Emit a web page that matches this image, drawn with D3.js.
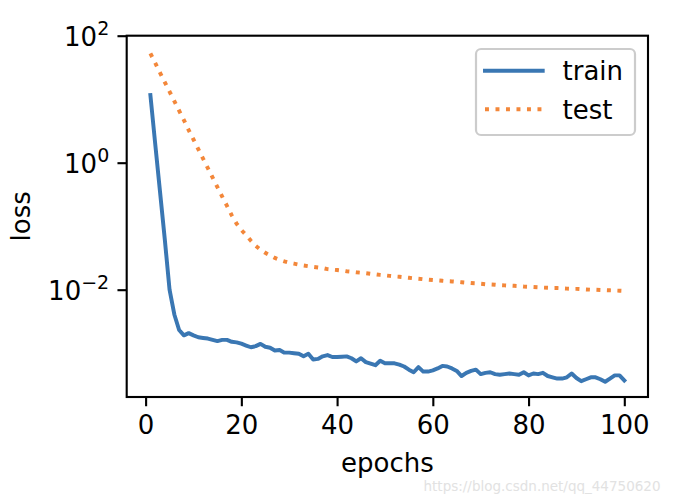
<!DOCTYPE html>
<html>
<head>
<meta charset="utf-8">
<script src="https://cdn.jsdelivr.net/npm/d3@7"></script>
<style>
  html, body { margin: 0; padding: 0; background: #ffffff; }
  svg { display: block; }
  text { font-family: "DejaVu Sans", sans-serif; fill: #000; }
</style>
</head>
<body>
<svg id="chart" width="676" height="504"></svg>
<script>
// ---- data ----
const epochs = d3.range(1, 101);
const trainLoss = [
  11.6, 2.0, 0.355, 0.063, 0.0100, 0.00407, 0.00232, 0.00191, 0.00207, 0.00191,
  0.00178, 0.00174, 0.00170, 0.00162, 0.00155, 0.00162, 0.00162, 0.00151, 0.00148, 0.00141,
  0.00132, 0.00124, 0.00129, 0.00140, 0.00126, 0.00122, 0.00110, 0.00112, 0.00102, 0.00102,
  0.00100, 0.000977, 0.000891, 0.000977, 0.000794, 0.000813, 0.000891, 0.000933, 0.000871, 0.000871,
  0.000881, 0.000891, 0.000832, 0.000741, 0.000832, 0.000724, 0.000684, 0.000646, 0.000759, 0.000692,
  0.000692, 0.000692, 0.000661, 0.000617, 0.000550, 0.000501, 0.000603, 0.000513, 0.000513, 0.000537,
  0.000575, 0.000631, 0.000617, 0.000575, 0.000525, 0.000437, 0.000490, 0.000525, 0.000550, 0.000468,
  0.000490, 0.000501, 0.000468, 0.000457, 0.000468, 0.000479, 0.000468, 0.000457, 0.000501, 0.000447,
  0.000479, 0.000468, 0.000490, 0.000437, 0.000417, 0.000398, 0.000398, 0.000417, 0.000479, 0.000407,
  0.000363, 0.000389, 0.000417, 0.000417, 0.000389, 0.000355, 0.000398, 0.000447, 0.000447, 0.000372
];
const testLoss = [
  52.5, 37.2, 26.3, 18.6, 13.2, 9.33, 6.61, 4.68, 3.27, 2.32,
  1.64, 1.16, 0.822, 0.582, 0.412, 0.292, 0.209, 0.148, 0.110, 0.0871,
  0.0724, 0.0589, 0.0490, 0.0427, 0.0380, 0.0347, 0.0316, 0.0295, 0.0279, 0.0266,
  0.0257, 0.0248, 0.0240, 0.0234, 0.0229, 0.0224, 0.0219, 0.0211, 0.0207, 0.0204,
  0.0200, 0.0195, 0.0192, 0.0188, 0.0185, 0.0182, 0.0178, 0.0175, 0.0171, 0.0168,
  0.0165, 0.0162, 0.0160, 0.0157, 0.0154, 0.0151, 0.0149, 0.0146, 0.0144, 0.0142,
  0.0140, 0.0138, 0.0136, 0.0135, 0.0133, 0.0131, 0.0129, 0.0127, 0.0126, 0.0124,
  0.0122, 0.0121, 0.0120, 0.0118, 0.0117, 0.0116, 0.0115, 0.0114, 0.0112, 0.0111,
  0.0110, 0.0109, 0.0108, 0.0107, 0.0106, 0.0106, 0.0105, 0.0104, 0.0103, 0.0103,
  0.0102, 0.0101, 0.0100, 0.00998, 0.00991, 0.00984, 0.00977, 0.00971, 0.00964, 0.00955
];
const seriesNames = ["train", "test"];
const xTicks = [0, 20, 40, 60, 80, 100];
const yTickExponents = [2, 0, -2];
const xLabel = "epochs";
const yLabel = "loss";
const watermark = "https://blog.csdn.net/qq_44750620";

// ---- layout ----
const svg = d3.select("#chart");
const axL = 126.7, axR = 648, axT = 35.7, axB = 397;
const pt = 2.64; // px per point

const x = d3.scaleLinear().domain([-3.95, 104.95]).range([axL, axR]);
const y = d3.scaleLog().domain([Math.pow(10, -3.69), 100]).range([axB, axT]);

const blue = "#3a77b3";
const orange = "#f3873a";

svg.append("defs").append("clipPath").attr("id", "clip")
  .append("rect").attr("x", axL).attr("y", axT)
  .attr("width", axR - axL).attr("height", axB - axT);

const line = d3.line().x(d => x(d[0])).y(d => y(d[1]));

const plot = svg.append("g").attr("clip-path", "url(#clip)");
plot.append("path")
  .datum(epochs.map((e, i) => [e, trainLoss[i]]))
  .attr("d", line)
  .attr("fill", "none").attr("stroke", blue)
  .attr("stroke-width", 1.5 * pt)
  .attr("stroke-linejoin", "round").attr("stroke-linecap", "square");
plot.append("path")
  .datum(epochs.map((e, i) => [e, testLoss[i]]))
  .attr("d", line)
  .attr("fill", "none").attr("stroke", orange)
  .attr("stroke-width", 1.5 * pt)
  .attr("stroke-dasharray", `${1.5 * pt} ${2.475 * pt}`)
  .attr("stroke-linecap", "butt");

// ---- axes ----
const xAxis = d3.axisBottom(x).tickValues(xTicks).tickSize(3.5 * pt).tickPadding(3.5 * pt)
  .tickFormat(d3.format("d"));
const gx = svg.append("g").attr("transform", `translate(0,${axB})`).call(xAxis);
gx.select(".domain").remove();
gx.selectAll(".tick line").attr("stroke", "#000").attr("stroke-width", 0.8 * pt);
gx.selectAll(".tick text").attr("font-size", 26).attr("font-family", "DejaVu Sans").attr("fill", "#000")
  .attr("dy", "0.71em");

const yAxis = d3.axisLeft(y).tickValues(yTickExponents.map(e => Math.pow(10, e)))
  .tickSize(3.5 * pt).tickFormat(() => "");
const gy = svg.append("g").attr("transform", `translate(${axL},0)`).call(yAxis);
gy.select(".domain").remove();
gy.selectAll(".tick line").attr("stroke", "#000").attr("stroke-width", 0.8 * pt);
gy.selectAll(".tick text").remove();

yTickExponents.forEach(e => {
  const t = svg.append("text")
    .attr("x", axL - 3.5 * pt - 3.5 * pt + 1)
    .attr("y", y(Math.pow(10, e)) + 10.5)
    .attr("text-anchor", "end")
    .attr("font-size", 26);
  t.append("tspan").text("10");
  t.append("tspan").attr("font-size", 19).attr("dy", -11)
    .text(e < 0 ? "\u2212" + Math.abs(e) : String(e));
});

// frame
svg.append("rect").attr("x", axL).attr("y", axT)
  .attr("width", axR - axL).attr("height", axB - axT)
  .attr("fill", "none").attr("stroke", "#000").attr("stroke-width", 0.8 * pt);

// labels
svg.append("text").attr("x", (axL + axR) / 2).attr("y", 472)
  .attr("text-anchor", "middle").attr("font-size", 26).text(xLabel);
svg.append("text").attr("transform", `translate(30,${(axT + axB) / 2}) rotate(-90)`)
  .attr("text-anchor", "middle").attr("font-size", 26).text(yLabel);

// legend
const lg = svg.append("g");
lg.append("rect").attr("x", 476).attr("y", 49).attr("width", 159).attr("height", 86)
  .attr("rx", 5).attr("ry", 5)
  .attr("fill", "#ffffff").attr("fill-opacity", 0.8)
  .attr("stroke", "#cccccc").attr("stroke-width", 2.2);
const legendRows = [
  { name: seriesNames[0], color: blue, dash: null, yy: 70.7 },
  { name: seriesNames[1], color: orange, dash: `${1.5 * pt} ${2.475 * pt}`, yy: 109.3 }
];
legendRows.forEach(r => {
  const l = lg.append("line").attr("x1", 485).attr("x2", 542.7)
    .attr("y1", r.yy).attr("y2", r.yy)
    .attr("stroke", r.color).attr("stroke-width", 1.5 * pt)
    .attr("stroke-linecap", r.dash ? "butt" : "square");
  if (r.dash) l.attr("stroke-dasharray", r.dash);
  lg.append("text").attr("x", 562.5).attr("y", r.yy + 9.3)
    .attr("font-size", 26).text(r.name);
});

// watermark
svg.append("text").attr("x", 423.5).attr("y", 490.5)
  .attr("font-size", 14.5).attr("font-family", "Liberation Sans, Arial, sans-serif")
  .attr("textLength", 237).attr("lengthAdjust", "spacingAndGlyphs")
  .style("fill", "#e2e2e2").text(watermark);
</script>
</body>
</html>
